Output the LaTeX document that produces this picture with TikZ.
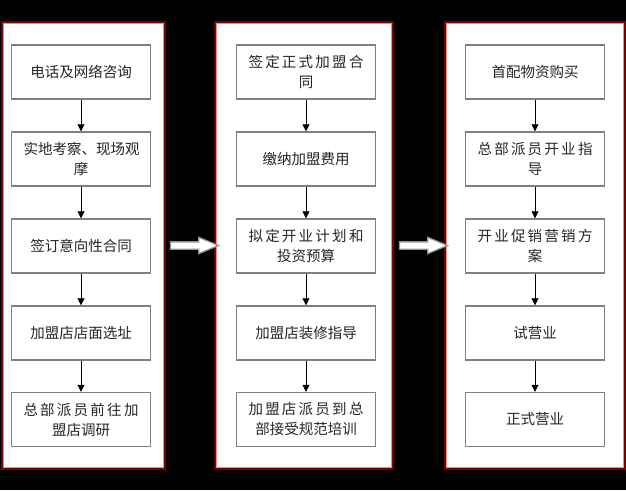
\documentclass[tikz,border=0pt]{standalone}
\usepackage{fontspec}
\newfontfamily\cjk{Noto Sans CJK SC}
\usetikzlibrary{arrows.meta,shapes.arrows,calc}
\definecolor{panelred}{RGB}{122,0,0}
\definecolor{panelpink}{RGB}{215,150,150}
\definecolor{boxgray}{RGB}{128,128,128}
\definecolor{txt}{RGB}{38,38,38}
\def\cjspread#1{\cjspA#1\relax\unskip}
\def\cjspA#1{\ifx\relax#1\else#1\hfil\expandafter\cjspA\fi}
\newcommand\wrapl[2]{\makebox[115pt][s]{\cjspread{#1}}\\#2}
\tikzset{
  panel/.style={draw=panelred, line width=2pt, fill=white, rectangle, inner sep=0pt},
  stepbox/.style={draw=boxgray, line width=1.4pt, fill=white, rectangle,
    minimum width=139pt, minimum height=54pt, inner sep=0pt, align=center,
    text=txt, font=\cjk\fontsize{14.5pt}{20pt}\selectfont},
  flow/.style={draw=black, line width=0.8pt, -{Triangle[width=7pt,length=7pt]}},
  bigarrow/.style={single arrow, draw=boxgray!85, line width=1.3pt, fill=white,
    minimum height=48pt, inner xsep=0pt, inner ysep=3pt, single arrow head extend=4.5pt,
    single arrow tip angle=45, single arrow head indent=0pt, text height=0pt, text depth=0pt}
}
\begin{document}
\begin{tikzpicture}[x=1pt,y=-1pt]
\useasboundingbox (0,0) rectangle (626,490);
\fill[black] (0,0) rectangle (626,490);
% panels
\node[panel, minimum width=163pt, minimum height=447pt] (P1) at (83.5,245.5) {};
\node[panel, minimum width=178pt, minimum height=447pt] (P2) at (304,245.5) {};
\node[panel, minimum width=180pt, minimum height=447pt] (P3) at (535,245.5) {};
\foreach \p in {P1,P2,P3}{
  \draw[panelpink, line width=0.8pt] ([shift={(2.6,2.6)}]\p.north west) rectangle ([shift={(-2.6,-2.6)}]\p.south east);
}
% column 1
\node[stepbox] (a1) at (81,72) {电话及网络咨询};
\node[stepbox] (a2) at (81,159) {\wrapl{实地考察、现场观}{摩}};
\node[stepbox] (a3) at (81,246) {签订意向性合同};
\node[stepbox] (a4) at (81,333) {加盟店店面选址};
\node[stepbox] (a5) at (81,419.5) {\wrapl{总部派员前往加}{盟店调研}};
% column 2
\node[stepbox] (b1) at (306,72) {\wrapl{签定正式加盟合}{同}};
\node[stepbox] (b2) at (306,159) {缴纳加盟费用};
\node[stepbox] (b3) at (306,246) {\wrapl{拟定开业计划和}{投资预算}};
\node[stepbox] (b4) at (306,333) {加盟店装修指导};
\node[stepbox] (b5) at (306,419.5) {\wrapl{加盟店派员到总}{部接受规范培训}};
% column 3
\node[stepbox] (c1) at (535,72) {首配物资购买};
\node[stepbox] (c2) at (535,159) {\wrapl{总部派员开业指}{导}};
\node[stepbox] (c3) at (535,246) {\wrapl{开业促销营销方}{案}};
\node[stepbox] (c4) at (535,333) {试营业};
\node[stepbox] (c5) at (535,419.5) {正式营业};
% connectors
\foreach \c in {a,b,c}{
  \draw[flow] (\c1.south) -- (\c2.north);
  \draw[flow] (\c2.south) -- (\c3.north);
  \draw[flow] (\c3.south) -- (\c4.north);
  \draw[flow] (\c4.south) -- (\c5.north);
}
% hollow arrows between panels
\node[bigarrow] (h1) at ($(P1.east)!0.5!(P2.west)$) {};
\node[bigarrow] (h2) at ($(P2.east)!0.5!(P3.west)$) {};
\end{tikzpicture}
\end{document}
